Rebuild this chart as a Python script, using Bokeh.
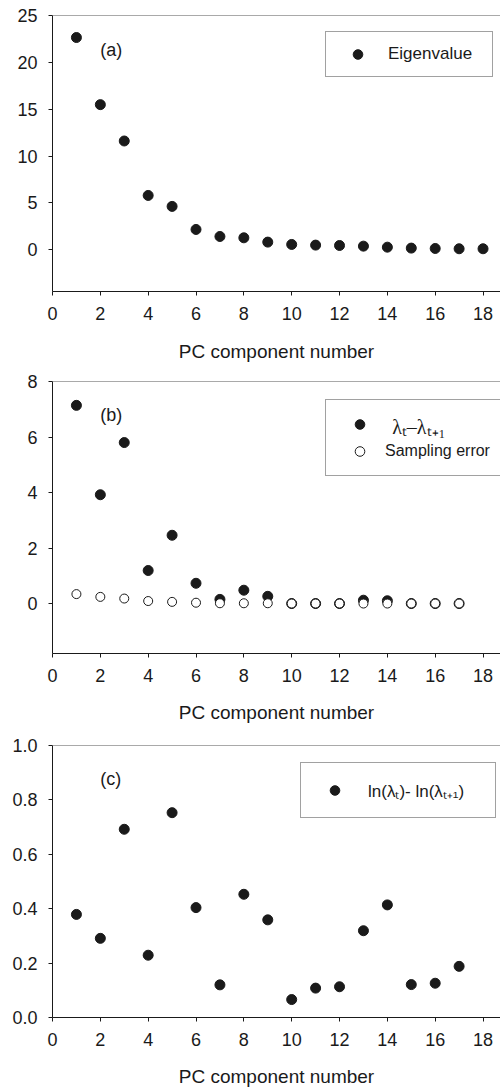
from bokeh.plotting import figure
from bokeh.models import Range1d, FixedTicker, Legend, LegendItem, Label, Span, PrintfTickFormatter
from bokeh.layouts import column
from bokeh.embed import file_html
from bokeh.resources import INLINE

# ---- data ----
pc18 = list(range(1, 19))
eigenvalue = [22.65, 15.49, 11.61, 5.80, 4.63, 2.17, 1.42, 1.28, 0.82, 0.57,
              0.50, 0.46, 0.39, 0.28, 0.18, 0.14, 0.11, 0.11]
pc17 = list(range(1, 18))
lambda_diff = [7.14, 3.92, 5.80, 1.19, 2.46, 0.73, 0.15, 0.48, 0.26, 0.0,
               0.0, 0.0, 0.12, 0.10, 0.0, 0.0, 0.0]
sampling_error = [0.34, 0.24, 0.18, 0.09, 0.06, 0.03, 0.01, 0.01, 0.01, 0.0,
                  0.0, 0.0, 0.0, 0.0, 0.0, 0.0, 0.0]
log_diff = [0.379, 0.291, 0.692, 0.229, 0.753, 0.404, 0.120, 0.453, 0.359, 0.066,
            0.108, 0.113, 0.319, 0.414, 0.121, 0.126, 0.188]
x_ticks = [0, 2, 4, 6, 8, 10, 12, 14, 16, 18]
ya_ticks = [0, 5, 10, 15, 20, 25]
yb_ticks = [0, 2, 4, 6, 8]
yc_ticks = [0.0, 0.2, 0.4, 0.6, 0.8, 1.0]

FONT = "Liberation Sans"
SERIF = "Liberation Serif"
INK = "#1a1a1a"


def make_fig(height, top, bottom, y0, y1, yticks, label_standoff):
    p = figure(width=500, height=height, x_range=Range1d(0, 18.73), y_range=Range1d(y0, y1),
               output_backend="svg", toolbar_location=None,
               min_border_left=52, min_border_right=0, min_border_top=top, min_border_bottom=bottom,
               outline_line_color=None)
    p.grid.visible = False
    p.xaxis.ticker = FixedTicker(ticks=x_ticks)
    p.yaxis.ticker = FixedTicker(ticks=yticks)
    for ax in (p.xaxis[0], p.yaxis[0]):
        ax.axis_line_color = INK
        ax.major_tick_line_color = INK
        ax.minor_tick_line_color = None
        ax.major_tick_in = 0
        ax.major_tick_out = 4
        ax.major_label_text_font = FONT
        ax.major_label_text_font_size = "18px"
        ax.major_label_text_color = INK
        ax.major_label_standoff = 11
    p.xaxis.axis_label = "PC component number"
    p.xaxis.axis_label_text_font = FONT
    p.xaxis.axis_label_text_font_size = "19px"
    p.xaxis.axis_label_text_font_style = "normal"
    p.xaxis.axis_label_text_color = INK
    p.xaxis.axis_label_standoff = label_standoff
    p.add_layout(Span(location=y1, dimension="width", line_color="#555555", line_width=1))
    return p


# ---- panel (a) ----
fa = make_fig(365, 15, 74, -4.45, 25, ya_ticks, 18)
ra = fa.scatter(pc18, eigenvalue, size=10, color=INK)
leg_a = Legend(items=[LegendItem(label="Eigenvalue", renderers=[ra])], location=(273, 214),
               padding=10, glyph_width=43, glyph_height=24, label_standoff=9, label_width=94,
               label_text_font=FONT, label_text_font_size="17px", label_text_color=INK,
               border_line_color="#444444", border_line_width=1, margin=0)
fa.add_layout(leg_a)
fa.add_layout(Label(x=2.0, y=21.34, text="(a)", text_baseline="middle", text_font=FONT,
                    text_font_size="18px", text_color=INK))

# ---- panel (b) ----
fb = make_fig(361, 16, 73, -1.8, 8, yb_ticks, 17)
rb1 = fb.scatter(pc17, lambda_diff, size=10, color=INK)
rb2 = fb.scatter(pc17, sampling_error, size=9, fill_color="white", line_color=INK, line_width=1)
leg_b = Legend(items=[LegendItem(label=" ", renderers=[rb1]),
                      LegendItem(label="Sampling error", renderers=[rb2])],
               location=(273, 177), padding=12, glyph_width=43, glyph_height=24, label_height=24,
               spacing=3, label_standoff=4, label_width=130,
               label_text_font=FONT, label_text_font_size="16px", label_text_color=INK,
               border_line_color="#444444", border_line_width=1, margin=0,
               background_fill_alpha=0)
fb.add_layout(leg_b)
fb.add_layout(Label(x=14.2, y=6.36, text="λₜ–λₜ₊₁", text_baseline="middle", text_font=SERIF,
                    text_font_size="20px", text_color=INK))
fb.add_layout(Label(x=2.0, y=6.81, text="(b)", text_baseline="middle", text_font=FONT,
                    text_font_size="18px", text_color=INK))

# ---- panel (c) ----
fc = make_fig(364, 19, 73, 0.0, 1.0, yc_ticks, 17)
fc.yaxis.formatter = PrintfTickFormatter(format="%.1f")
rc = fc.scatter(pc17, log_diff, size=10, color=INK)
leg_c = Legend(items=[LegendItem(label="ln(λₜ)- ln(λₜ₊₁)", renderers=[rc])], location=(248, 199),
               padding=10, glyph_width=47, glyph_height=24, label_height=34, label_standoff=10,
               label_width=117,
               label_text_font=FONT, label_text_font_size="17px", label_text_color=INK,
               border_line_color="#444444", border_line_width=1, margin=0)
fc.add_layout(leg_c)
fc.add_layout(Label(x=2.0, y=0.876, text="(c)", text_baseline="middle", text_font=FONT,
                    text_font_size="18px", text_color=INK))

layout = column(fa, fb, fc, spacing=0)
open("out.html", "w").write(file_html(layout, INLINE))
